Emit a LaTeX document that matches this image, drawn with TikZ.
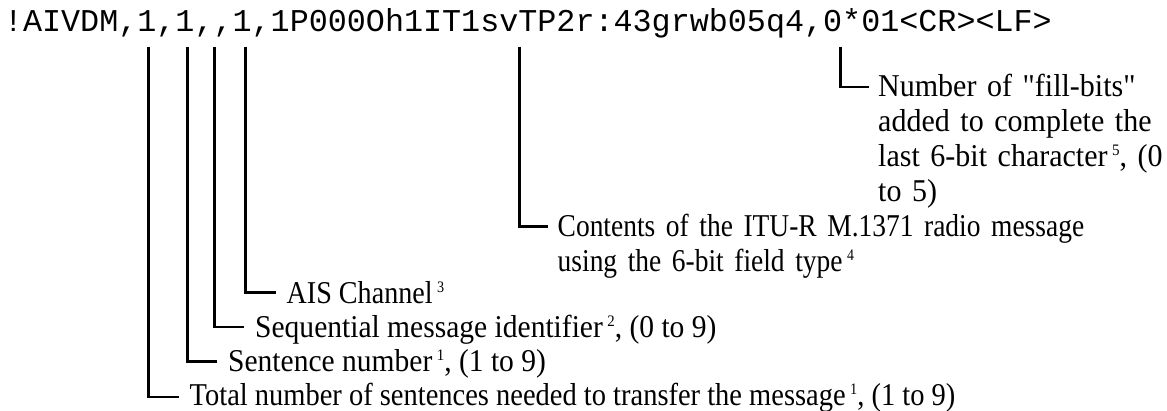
\documentclass[tikz,border=0pt]{standalone}
\usepackage{fontspec}
\setmonofont{Liberation Mono}
\newfontfamily\lblA{Liberation Serif}[Ligatures=NoCommon,FakeStretch=0.885]
\newfontfamily\lblB{Liberation Serif}[Ligatures=NoCommon,FakeStretch=0.93]
\newfontfamily\lblC{Liberation Serif}[Ligatures=NoCommon,FakeStretch=0.945]
\newfontfamily\lblD{Liberation Serif}[Ligatures=NoCommon,FakeStretch=0.865]
\newfontfamily\lblE{Liberation Serif}[Ligatures=NoCommon,FakeStretch=0.897]
\usetikzlibrary{calc}
\newcommand{\supnum}[1]{\hspace{4.5pt}\raisebox{11pt}{\fontsize{16}{16}\selectfont #1}}
\begin{document}
\begin{tikzpicture}[x=1pt,y=-1pt,
  lbl/.style={anchor=base west, inner sep=0pt, align=left, font=\lblA\fontsize{31.75}{35}\selectfont},
  lblmid/.style={lbl, font=\lblB\fontsize{31.75}{35}\selectfont},
  lblwide/.style={lbl, font=\lblC\fontsize{31.75}{35}\selectfont},
  lblnarrow/.style={lbl, font=\lblD\fontsize{31.75}{35}\selectfont},
  lbllong/.style={lbl, font=\lblE\fontsize{31.75}{35}\selectfont},
  msgstyle/.style={anchor=base west, inner sep=0pt, font=\ttfamily\fontsize{31.75}{35}\selectfont},
  wire/.style={line width=2.4pt, line join=miter}]
\useasboundingbox (0,0) rectangle (1167,411);
\node[msgstyle] (msg) at (3.8,31.7) {!AIVDM,1,1,,1,1P000Oh1IT1svTP2r:43grwb05q4,0*01<CR><LF>};
% tick start points under the fields
\coordinate (p1) at (148.3,46.7);
\coordinate (p2) at (187.5,46.7);
\coordinate (p3) at (214.3,46.7);
\coordinate (p4) at (245.5,46.7);
\coordinate (p5) at (519.3,46.7);
\coordinate (p6) at (840.5,46.7);
% labels
\node[lbllong] (tot) at (189.5,405) {Total number of sentences needed to transfer the message\supnum{1}, (1 to 9)};
\node[lblmid] (sen) at (228,371.7) {Sentence number\supnum{1}, (1 to 9)};
\node[lblmid] (seq) at (255,337.3) {Sequential message identifier\supnum{2}, (0 to 9)};
\node[lbl] (ais) at (286.5,303.2) {AIS Channel\supnum{3}};
\node[lblnarrow, text width=600pt] (con) at (557.5,236.7) {Contents of the ITU-R M.1371 radio message\\using the 6-bit field type\supnum{4}};
\node[lblwide, text width=330pt] (num) at (878,96.8) {Number of "fill-bits"\\added to complete the\\last 6-bit character\supnum{5}, (0\\to 5)};
% connectors
\draw[wire] (p1) |- ($(tot.base west)+(-11,-8.3)$);
\draw[wire] (p2) |- ($(sen.base west)+(-11,-10)$);
\draw[wire] (p3) |- ($(seq.base west)+(-11,-10)$);
\draw[wire] (p4) |- ($(ais.base west)+(-11,-10.5)$);
\draw[wire] (p5) |- ($(con.base west)+(-9.5,-10)$);
\draw[wire] (p6) |- ($(num.base west)+(-9.5,-10)$);
\end{tikzpicture}
\end{document}
